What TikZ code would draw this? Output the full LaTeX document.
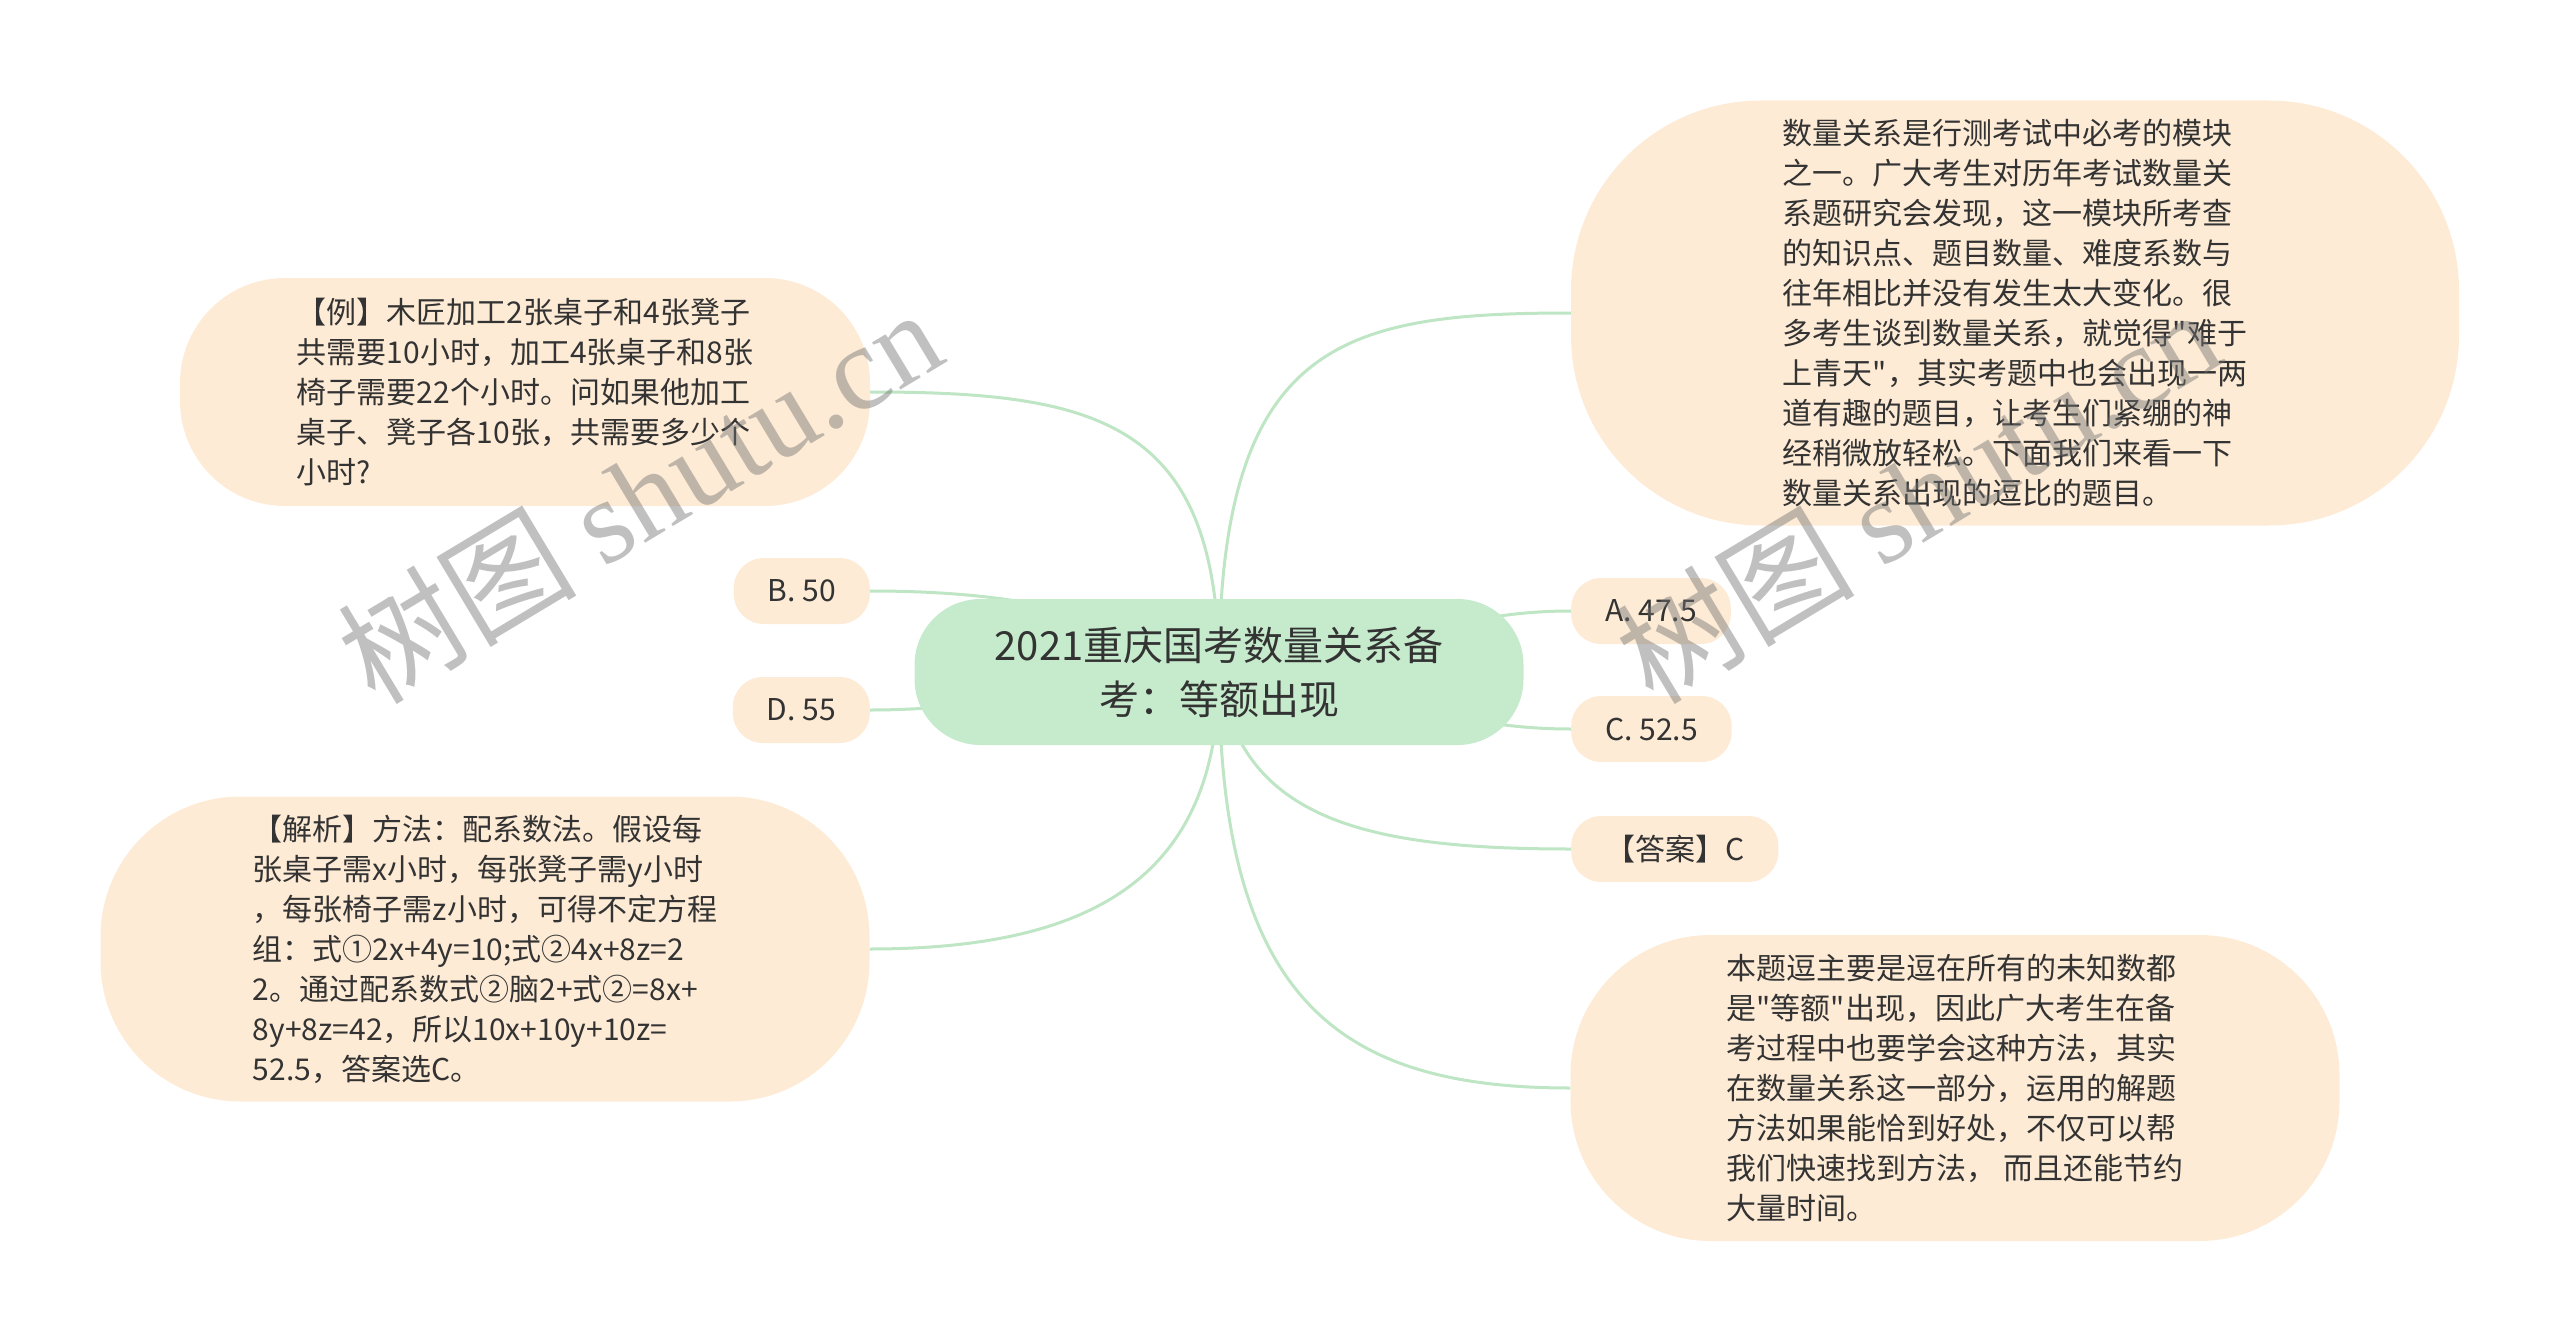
\documentclass[tikz,border=0pt]{standalone}
\usepackage{fontspec}
\setmainfont{Noto Sans CJK SC}[Ligatures=TeXOff]
\newfontfamily\markfont{Liberation Serif}
\usetikzlibrary{positioning, backgrounds}

\definecolor{rootgreen}{HTML}{C6EBCC}
\definecolor{leafpeach}{HTML}{FDEBD5}
\definecolor{linkgreen}{HTML}{BEE5C4}
\definecolor{inkgray}{HTML}{333333}

\tikzset{
  leaf/.style={fill=leafpeach, text=inkgray, rounded corners=#1, align=left,
    font=\fontsize{30}{40}\selectfont, inner sep=0pt},
  opt/.style={leaf=30pt, minimum height=66pt, inner xsep=34pt},
  link/.style={draw=linkgreen, line width=3pt},
  wmark/.style={text=black!55, text opacity=0.45, anchor=base west, rotate=31,
    font=\fontsize{120}{120}\selectfont},
}

\begin{document}
\begin{tikzpicture}[x=1pt, y=-1pt]
\useasboundingbox (0,0) rectangle (2560,1343);

% centre topic
\node (root) [fill=rootgreen, text=inkgray, rounded corners=66pt, minimum width=609pt,
  minimum height=146pt, align=center, font=\fontsize{40}{54}\selectfont]
  at (1219,672) {2021重庆国考数量关系备\\考：等额出现};

% left side
\node (example) [leaf=105pt, minimum width=690pt, minimum height=228pt] at (525,392)
  {【例】木匠加工2张桌子和4张凳子\\共需要10小时，加工4张桌子和8张\\椅子需要22个小时。问如果他加工\\桌子、凳子各10张，共需要多少个\\小时?};
\node (optB) [opt, anchor=east] at (870,591) {B. 50};
\node (optD) [opt, anchor=east] at (870,710) {D. 55};
\node (analysis) [leaf=140pt, minimum width=769pt, minimum height=305pt] at (485,949)
  {【解析】方法：配系数法。假设每\\张桌子需x小时，每张凳子需y小时\\，每张椅子需z小时，可得不定方程\\组：式①2x+4y=10;式②4x+8z=2\\2。通过配系数式②脑2+式②=8x+\\8y+8z=42，所以10x+10y+10z=\\52.5，答案选C。};

% right side
\node (info) [leaf=190pt, minimum width=888pt, minimum height=425pt] at (2015,313)
  {数量关系是行测考试中必考的模块\\之一。广大考生对历年考试数量关\\系题研究会发现，这一模块所考查\\的知识点、题目数量、难度系数与\\往年相比并没有发生太大变化。很\\多考生谈到数量关系，就觉得"难于\\上青天"，其实考题中也会出现一两\\道有趣的题目，让考生们紧绷的神\\经稍微放轻松。下面我们来看一下\\数量关系出现的逗比的题目。};
\node (optA) [opt, anchor=west] at (1571,611) {A. 47.5};
\node (optC) [opt, anchor=west] at (1571,729) {C. 52.5};
\node (answer) [opt, anchor=west] at (1571,849) {【答案】C};
\node (summary) [leaf=140pt, minimum width=769pt, minimum height=306pt] at (1955,1088)
  {本题逗主要是逗在所有的未知数都\\是"等额"出现，因此广大考生在备\\考过程中也要学会这种方法，其实\\在数量关系这一部分，运用的解题\\方法如果能恰到好处，不仅可以帮\\我们快速找到方法，~而且还能节约\\大量时间。};

% connectors
\begin{scope}[on background layer]
\draw[link] (root.center) .. controls +(0,-330) and +(-230,0) .. (info.west);
\draw[link] (root.center) .. controls +(0,-250) and +(230,0) .. (example.east);
\draw[link] (root.center) .. controls (1110,606) and (990,591) .. (optB.east);
\draw[link] (root.center) .. controls +(-150,0) and +(150,0) .. (optD.east);
\draw[link] (root.center) .. controls +(150,0) and +(-150,0) .. (optA.west);
\draw[link] (root.center) .. controls +(150,0) and +(-150,0) .. (optC.west);
\draw[link] (root.center) .. controls +(20,150) and +(-200,0) .. (answer.west);
\draw[link] (root.center) .. controls +(0,200) and +(230,0) .. (analysis.east);
\draw[link] (root.center) .. controls +(0,330) and +(-230,0) .. (summary.west);
\end{scope}

% watermark
\foreach \wx/\wy [count=\wi] in {372/708, 1650/708}
  \node (wm\wi) [wmark] at (\wx,\wy) {树图 {\markfont shutu.cn}};
\end{tikzpicture}
\end{document}
